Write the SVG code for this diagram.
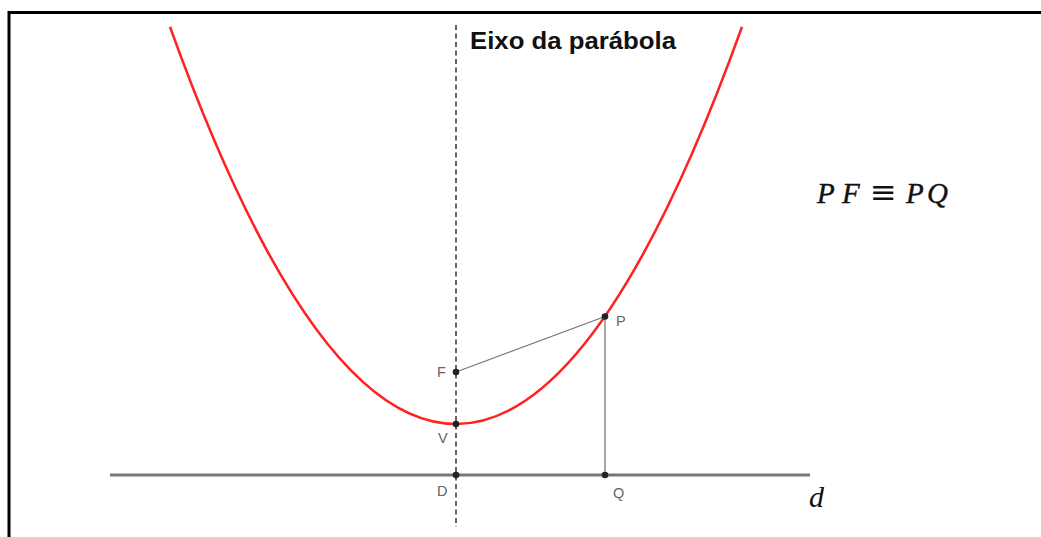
<svg xmlns="http://www.w3.org/2000/svg" width="1041" height="537" viewBox="0 0 1041 537">
<style>
.pt{fill:#222}
.lbl{font-family:"Liberation Sans",Arial,sans-serif;font-size:14.5px;fill:#666}
.seg{stroke:#777;stroke-width:1.3;fill:none}
.math{font-family:"Liberation Serif","DejaVu Serif",serif;fill:#111}
</style>
<rect width="1041" height="537" fill="#fff"/>
<path d="M9,537 V12.5 H1041" fill="none" stroke="#000" stroke-width="3"/>
<g id="connectors">
<line id="directrix" x1="110" y1="475" x2="810" y2="475" stroke="#777" stroke-width="3"/>
<line id="axis" x1="456" y1="25" x2="456" y2="527" stroke="#333" stroke-width="1.5" stroke-dasharray="5,3.5"/>
<path id="parabola" d="M170,26.9 Q456,821.1 742,26.9" fill="none" stroke="#f22" stroke-width="2.6"/>
<line class="seg" x1="456" y1="372" x2="605" y2="316.5"/>
<line class="seg" x1="605" y1="316.5" x2="605" y2="475"/>
</g>
<g id="F"><circle class="pt" cx="456" cy="372" r="3.3"/><text class="lbl" x="437" y="377">F</text></g>
<g id="V"><circle class="pt" cx="456" cy="424" r="3.3"/><text class="lbl" x="438" y="443">V</text></g>
<g id="D"><circle class="pt" cx="456" cy="475" r="3.3"/><text class="lbl" x="437" y="496">D</text></g>
<g id="P"><circle class="pt" cx="605" cy="316.5" r="3.3"/><text class="lbl" x="616" y="326">P</text></g>
<g id="Q"><circle class="pt" cx="605" cy="475" r="3.3"/><text class="lbl" x="613" y="498">Q</text></g>
<text x="470" y="49" font-family="'Liberation Sans',Arial,sans-serif" font-weight="bold" font-size="23" fill="#111" textLength="206" lengthAdjust="spacingAndGlyphs">Eixo da parábola</text>
<text class="math" y="203" font-size="29" stroke="#111" stroke-width="0.4"><tspan x="817 842" font-style="italic">PF</tspan><tspan x="870" y="203" font-family="'DejaVu Sans',sans-serif" font-size="32" stroke-width="0">≡</tspan><tspan x="906 927" y="203" font-style="italic">PQ</tspan></text>
<text class="math" x="809" y="507" font-size="30" font-style="italic">d</text>
</svg>
